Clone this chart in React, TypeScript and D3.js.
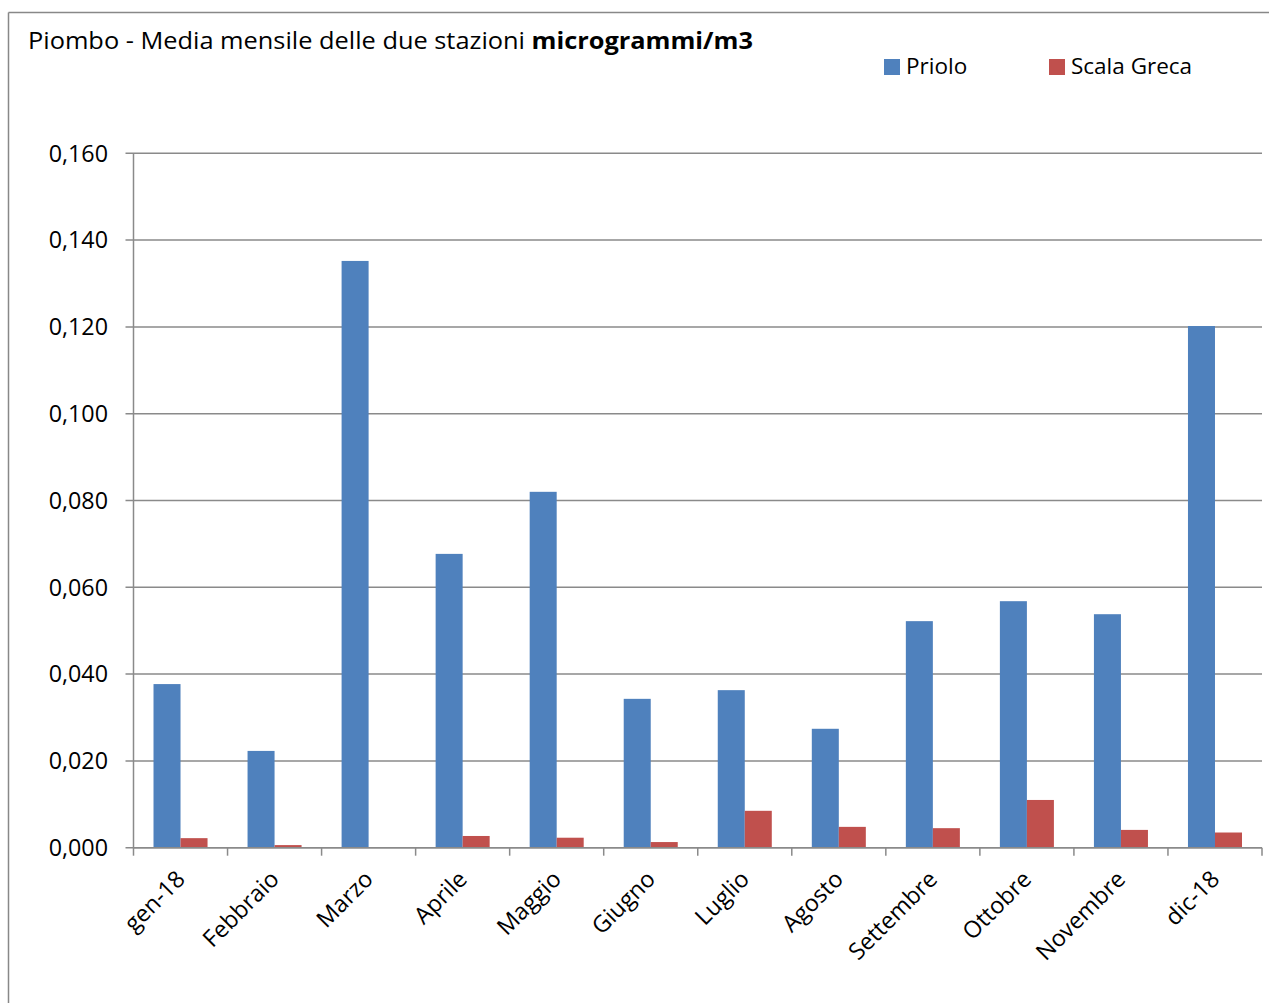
import React from "react";
import * as d3 from "d3";

const categories = ["gen-18", "Febbraio", "Marzo", "Aprile", "Maggio", "Giugno", "Luglio", "Agosto", "Settembre", "Ottobre", "Novembre", "dic-18"];
const seriesNames = ["Priolo", "Scala Greca"];
const priolo = [0.0377, 0.0223, 0.1352, 0.0677, 0.082, 0.0343, 0.0363, 0.0274, 0.0522, 0.0568, 0.0538, 0.1202];
const scalaGreca = [0.0022, 0.0006, 0, 0.0027, 0.0023, 0.0013, 0.0085, 0.0048, 0.0045, 0.011, 0.0041, 0.0035];
const yTicks = [0, 0.02, 0.04, 0.06, 0.08, 0.1, 0.12, 0.14, 0.16];
const colors = ["#4F81BD", "#C0504D"];

const FONT = "'Open Sans', Lato, sans-serif";

export default function App() {
  const W = 1269, H = 1003;
  const left = 133.5, right = 1262, top = 153.3, bottom = 847.7;
  const x = d3.scaleBand().domain(categories).range([left, right]).paddingInner(0).paddingOuter(0);
  const y = d3.scaleLinear().domain([0, 0.16]).range([bottom, top]);
  const bw = x.bandwidth();
  const barW = bw * (27 / 94);
  const gapL = (bw - 2 * barW) / 2;
  const fmt = (v: number) => d3.format(".3f")(v).replace(".", ",");
  const series = [priolo, scalaGreca];
  return (
    <svg width={W} height={H} style={{ position: "absolute", left: 0, top: 0 }}>
      <rect x={0} y={0} width={W} height={H} fill="#fff" />
      <line x1={8.5} y1={12.5} x2={8.5} y2={H} stroke="#888" strokeWidth={1.5} />
      <line x1={8.5} y1={12.5} x2={W} y2={12.5} stroke="#888" strokeWidth={1.5} />
      <text x={28} y={48.5} fontFamily={FONT} fontSize={23.5} fill="#000" textLength={725} lengthAdjust="spacingAndGlyphs">
        Piombo - Media mensile delle due stazioni <tspan fontWeight="bold">microgrammi/m3</tspan>
      </text>
      {/* legend */}
      {seriesNames.map((n, i) => {
        const lx = [884, 1049][i];
        return (
          <g key={n}>
            <rect x={lx} y={59} width={16} height={16} fill={colors[i]} />
            <text x={lx + 22} y={74} fontFamily={FONT} fontSize={22.5} fill="#000">{n}</text>
          </g>
        );
      })}
      {/* gridlines */}
      {yTicks.map((t) => (
        <g key={t}>
          <line x1={left - 8} x2={right} y1={y(t)} y2={y(t)} stroke="#8a8a8a" strokeWidth={1.5} />
          <text x={108} y={y(t)} dy="0.36em" textAnchor="end" fontFamily={FONT} fontSize={23.3} fill="#000">{fmt(t)}</text>
        </g>
      ))}
      {/* y axis */}
      <line x1={left} x2={left} y1={top} y2={bottom} stroke="#8a8a8a" strokeWidth={1.5} />
      {/* bars */}
      {series.map((s, si) =>
        s.map((v, i) => {
          const bx = (x(categories[i]) as number) + gapL + si * barW;
          return v > 0 ? (
            <rect key={si + "-" + i} x={bx} y={y(v)} width={barW} height={bottom - y(v)} fill={colors[si]} />
          ) : null;
        })
      )}
      {/* x axis */}
      <line x1={left} x2={right} y1={bottom} y2={bottom} stroke="#8a8a8a" strokeWidth={1.5} />
      {categories.concat(["__end"]).map((c, i) => {
        const tx = left + i * bw;
        return <line key={"t" + i} x1={tx} x2={tx} y1={bottom} y2={bottom + 8} stroke="#8a8a8a" strokeWidth={1.5} />;
      })}
      {categories.map((c) => {
        const cx = (x(c) as number) + bw / 2;
        return (
          <text key={c} transform={`translate(${cx},${bottom + 27}) rotate(-45)`} textAnchor="end" dy="0.36em" fontFamily={FONT} fontSize={23.3} fill="#000">{c}</text>
        );
      })}
    </svg>
  );
}
